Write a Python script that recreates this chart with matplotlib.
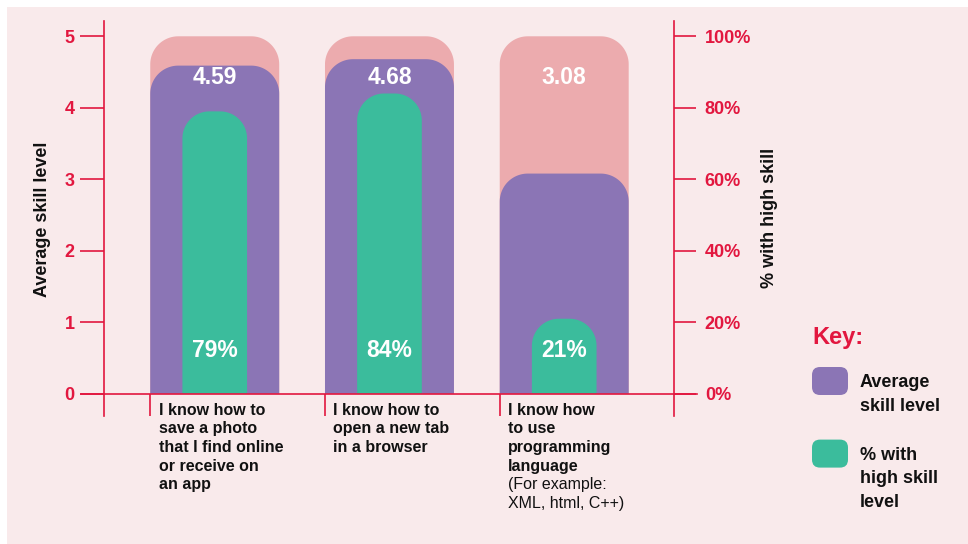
import numpy as np
import matplotlib
matplotlib.use("Agg")
import matplotlib.pyplot as plt
from matplotlib.patches import Polygon, Rectangle, FancyBboxPatch
from matplotlib import transforms as mtrans

plt.rcParams['font.family'] = ['Liberation Sans', 'DejaVu Sans']

# ---------------- data ----------------
categories_bold = [
    "I know how to\nsave a photo\nthat I find online\nor receive on\nan app",
    "I know how to\nopen a new tab\nin a browser",
    "I know how\nto use\nprogramming\nlanguage",
]
categories_regular = ["", "", "(For example:\nXML, html, C++)"]
avg_skill = [4.59, 4.68, 3.08]
pct_high = [79, 84, 21]
skill_max = 5
left_ticks = [0, 1, 2, 3, 4, 5]
right_ticks = [0, 20, 40, 60, 80, 100]
right_tick_labels = ["0%", "20%", "40%", "60%", "80%", "100%"]

# ---------------- style ----------------
W, H = 968, 544
RED = "#e2173f"
PINK = "#ecabae"
PURPLE = "#8b75b5"
GREEN = "#3bbc9c"
BG = "#f9eaeb"

fig = plt.figure(figsize=(W / 100, H / 100), dpi=100)
fig.patch.set_facecolor("white")
# pixel transform with y measured from top
pxT = mtrans.Affine2D().scale(1, -1).translate(0, H).scale(1 / 100) + fig.dpi_scale_trans

fig.add_artist(Rectangle((7, 7), W - 7, H - 7, transform=pxT, facecolor=BG,
                         edgecolor="none", zorder=-10))

# axes geometry (pixels)
ax_l, ax_r = 104.3, 674.3
ax_top, ax_bot = 20.8, 416.0
y0_px, unit_px = 393.8, 71.5
ylo = -(ax_bot - y0_px) / unit_px
yhi = (y0_px - ax_top) / unit_px
xlo, xhi = -0.632, 2.630

ax = fig.add_axes([ax_l / W, (H - ax_bot) / H, (ax_r - ax_l) / W, (ax_bot - ax_top) / H])
ax.set_facecolor("none")
ax.set_xlim(xlo, xhi)
ax.set_ylim(ylo, yhi)
pxx = (ax_r - ax_l) / (xhi - xlo)
pxy = unit_px

for s in ["top", "right", "bottom"]:
    ax.spines[s].set_visible(False)
ax.spines["left"].set_color(RED)
ax.spines["left"].set_linewidth(1.2)
ax.set_xticks([])
ax.set_yticks(left_ticks)
ax.set_yticklabels([str(t) for t in left_ticks], fontsize=13, fontweight="bold")
ax.tick_params(axis="y", direction="out", length=17, width=1.2, color=RED,
               labelcolor=RED, pad=4.5)
ax.set_ylabel("Average skill level", fontsize=13, fontweight="bold", color="#111111",
              labelpad=0)
ax.yaxis.set_label_coords((51 - ax_l) / (ax_r - ax_l), 0.5 + (0.5 * (ax_top + ax_bot) - 219) / (ax_bot - ax_top))

ax2 = ax.twinx()
ax2.set_ylim(ylo * 20, yhi * 20)
for s in ["top", "left", "bottom"]:
    ax2.spines[s].set_visible(False)
ax2.spines["right"].set_color(RED)
ax2.spines["right"].set_linewidth(1.2)
ax2.set_yticks(right_ticks)
ax2.set_yticklabels(right_tick_labels, fontsize=13, fontweight="bold")
ax2.tick_params(axis="y", direction="out", length=16, width=1.2, color=RED,
                labelcolor=RED, pad=6)
ax2.set_ylabel("% with high skill", fontsize=13, fontweight="bold", color="#111111")
ax2.yaxis.set_label_coords((761 - ax_l) / (ax_r - ax_l), 0.5 + (0.5 * (ax_top + ax_bot) - 218) / (ax_bot - ax_top))

# baseline
ax.axhline(0, xmin=(81 - ax_l) / (ax_r - ax_l), xmax=(697 - ax_l) / (ax_r - ax_l),
           color=RED, lw=1.2, clip_on=False, zorder=5)


def top_rounded(xc, w, h, rpx, color, z):
    rx = min(rpx / pxx, w / 2)
    ry = rpx / pxy
    x0, x1 = xc - w / 2, xc + w / 2
    t1 = np.linspace(0, np.pi / 2, 30)
    t2 = np.linspace(np.pi / 2, np.pi, 30)
    cx1, cx2, cy = x1 - rx, x0 + rx, h - ry
    verts = [(x0, 0), (x1, 0)]
    verts += list(zip(cx1 + rx * np.cos(t1), cy + ry * np.sin(t1)))
    verts += list(zip(cx2 + rx * np.cos(t2), cy + ry * np.sin(t2)))
    ax.add_patch(Polygon(verts, closed=True, facecolor=color, edgecolor="none", zorder=z))


bar_w = 0.738
green_w = 0.370
x = np.arange(len(avg_skill))
for i in x:
    top_rounded(i, bar_w, skill_max, 28, PINK, 2)
    top_rounded(i, bar_w, avg_skill[i], 28, PURPLE, 3)
    top_rounded(i, green_w, pct_high[i] / 100 * skill_max, 27, GREEN, 4)
    ax.text(i, 4.42, f"{avg_skill[i]:.2f}", ha="center", va="center", color="white",
            fontsize=16.5, fontweight="bold", zorder=6)
    ax.text(i, 0.61, f"{pct_high[i]}%", ha="center", va="center", color="white",
            fontsize=16.5, fontweight="bold", zorder=6)

# separators under the baseline at bar left edges
ax.vlines(x - bar_w / 2, ylo, 0, color=RED, lw=1.2, clip_on=False, zorder=5)

# category labels
base0, lstep = 414.6, 18.7
for i in x:
    trans = mtrans.offset_copy(mtrans.blended_transform_factory(ax.transData, pxT),
                               fig=fig, x=8.5, y=0, units="dots")
    k = 0
    for line in categories_bold[i].split("\n"):
        ax.text(i - bar_w / 2, base0 + k * lstep, line, transform=trans, ha="left",
                va="baseline", fontsize=11.5, fontweight="bold", color="#111111")
        k += 1
    if categories_regular[i]:
        for line in categories_regular[i].split("\n"):
            ax.text(i - bar_w / 2, base0 + k * lstep, line, transform=trans, ha="left",
                    va="baseline", fontsize=11.5, color="#111111")
            k += 1

# key
fig.text(812, 344, "Key:", transform=pxT, ha="left", va="baseline", fontsize=17,
         fontweight="bold", color=RED)
fig.add_artist(FancyBboxPatch((812, 367), 36, 28, transform=pxT,
                              boxstyle="round,pad=0,rounding_size=8",
                              facecolor=PURPLE, edgecolor="none"))
fig.add_artist(FancyBboxPatch((812, 439.6), 36, 28, transform=pxT,
                              boxstyle="round,pad=0,rounding_size=8",
                              facecolor=GREEN, edgecolor="none"))
key_lines = [("Average", 387), ("skill level", 411), ("% with", 460),
             ("high skill", 483), ("level", 507)]
for txt, yb in key_lines:
    fig.text(860, yb, txt, transform=pxT, ha="left", va="baseline", fontsize=13,
             fontweight="bold", color="#111111")

fig.savefig("out.png", dpi=100, facecolor=fig.get_facecolor())
